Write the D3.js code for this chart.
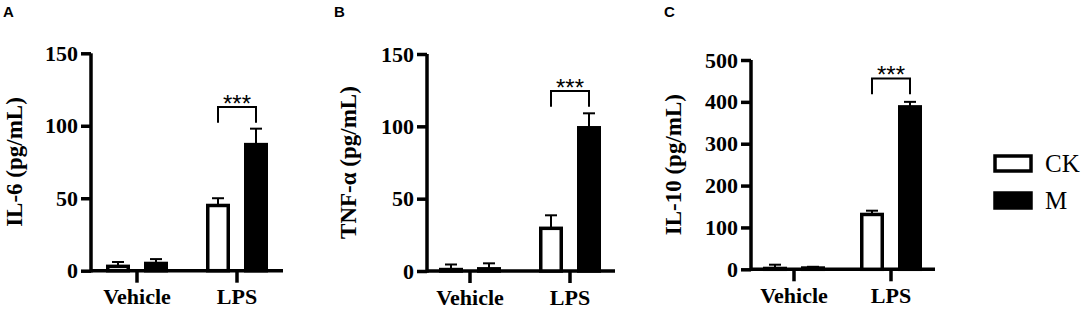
<!DOCTYPE html>
<html>
<head>
<meta charset="utf-8">
<script src="https://cdn.jsdelivr.net/npm/d3@7"></script>
<style>
  body { margin: 0; background: #fff; }
  svg { display: block; }
</style>
</head>
<body>
<div id="chart"></div>
<script>
// ---- data ----
const groups = ["Vehicle", "LPS"];
const series = ["CK", "M"];
const panelLetters = ["A", "B", "C"];
const yTitles = ["IL-6 (pg/mL)", "TNF-α (pg/mL)", "IL-10 (pg/mL)"];

const il6Ticks = [0, 50, 100, 150];
const il6CK = [3, 45];
const il6M = [5, 87];
const il6CKErr = [3, 5];
const il6MErr = [3, 11];
const il6Sig = [102, 113]; // bracket leg bottom, bracket top

const tnfTicks = [0, 50, 100, 150];
const tnfCK = [1, 29.5];
const tnfM = [1.5, 99];
const tnfCKErr = [3.5, 9];
const tnfMErr = [3.8, 10];
const tnfSig = [113.5, 124.5];

const il10Ticks = [0, 100, 200, 300, 400, 500];
const il10CK = [2, 131];
const il10M = [3, 388];
const il10CKErr = [9, 9];
const il10MErr = [3, 12];
const il10Sig = [418, 456];

const sigLabel = "***";

// ---- layout ----
const W = 1084, H = 310;
const svg = d3.select("#chart").append("svg").attr("width", W).attr("height", H);

const panels = [
  { ck: il6CK, m: il6M, ckErr: il6CKErr, mErr: il6MErr, ticks: il6Ticks, sig: il6Sig,
    axisX: 91, axisEnd: 283, y0: 270.7, y1: 53.3, letterX: 3, titleX: 14, cat0: 87, cat1: 287 },
  { ck: tnfCK, m: tnfM, ckErr: tnfCKErr, mErr: tnfMErr, ticks: tnfTicks, sig: tnfSig,
    axisX: 427, axisEnd: 615, y0: 271, y1: 54, letterX: 334, titleX: 348, cat0: 420, cat1: 620 },
  { ck: il10CK, m: il10M, ckErr: il10CKErr, mErr: il10MErr, ticks: il10Ticks, sig: il10Sig,
    axisX: 751, axisEnd: 935, y0: 269.3, y1: 60, letterX: 664, titleX: 673, cat0: 745.5, cat1: 939.5 }
];

const serif = "'Liberation Serif', 'Times New Roman', serif";
const sans = "'Liberation Sans', Arial, sans-serif";
const stroke = 3.5;
const barW = 24;

panels.forEach((p, i) => {
  const g = svg.append("g");
  const yMax = d3.max(p.ticks);
  const y = d3.scaleLinear().domain([0, yMax]).range([p.y0, p.y1]);
  const x = d3.scaleBand().domain(groups).range([p.cat0, p.cat1]);
  const xs = d3.scalePoint().domain(series).range([-19, 19]);
  const cx = c => x(c) + x.bandwidth() / 2;

  // panel letter
  g.append("text").attr("x", p.letterX).attr("y", 17)
    .attr("font-family", sans).attr("font-weight", "bold").attr("font-size", 15)
    .text(panelLetters[i]);

  // y axis
  const yAxis = g.append("g").attr("transform", `translate(${p.axisX},0)`)
    .call(d3.axisLeft(y).tickValues(p.ticks).tickSize(10).tickPadding(3).tickFormat(d3.format("d")));
  yAxis.select(".domain").attr("d", `M0,${p.y0 + stroke / 2}V${p.y1}`).attr("stroke-width", stroke);
  yAxis.selectAll(".tick line").attr("stroke-width", stroke);
  yAxis.selectAll(".tick text").attr("font-family", serif).attr("font-weight", "bold")
    .attr("font-size", 22).attr("fill", "#000");

  // x axis
  const xAxis = g.append("g").attr("transform", `translate(0,${p.y0})`)
    .call(d3.axisBottom(x).tickSize(12).tickPadding(6));
  xAxis.select(".domain").attr("d", `M${p.axisX},0H${p.axisEnd}`).attr("stroke-width", stroke);
  xAxis.selectAll(".tick line").attr("stroke-width", stroke);
  xAxis.selectAll(".tick text").attr("font-family", serif).attr("font-weight", "bold")
    .attr("font-size", 22).attr("fill", "#000");

  // y title
  g.append("text")
    .attr("transform", `translate(${p.titleX},${(p.y0 + p.y1) / 2}) rotate(-90)`)
    .attr("text-anchor", "middle").attr("dy", "0.35em")
    .attr("font-family", serif).attr("font-weight", "bold").attr("font-size", 23)
    .text(yTitles[i]);

  // bars
  const rows = [];
  groups.forEach((grp, gi) => {
    rows.push({ grp, s: "CK", v: p.ck[gi], e: p.ckErr[gi] });
    rows.push({ grp, s: "M", v: p.m[gi], e: p.mErr[gi] });
  });

  // error bars (behind bars)
  const eb = g.append("g").attr("stroke", "#000").attr("stroke-width", 2);
  rows.forEach(r => {
    const bx = cx(r.grp) + xs(r.s);
    eb.append("line").attr("x1", bx).attr("x2", bx).attr("y1", y(r.v)).attr("y2", y(r.v + r.e));
    eb.append("line").attr("x1", bx - 6).attr("x2", bx + 6).attr("y1", y(r.v + r.e)).attr("y2", y(r.v + r.e));
  });

  g.append("g").selectAll("rect").data(rows).join("rect")
    .attr("x", r => cx(r.grp) + xs(r.s) - (barW - stroke) / 2)
    .attr("width", barW - stroke)
    .attr("y", r => y(r.v))
    .attr("height", r => y(0) - y(r.v))
    .attr("fill", r => r.s === "CK" ? "#fff" : "#000")
    .attr("stroke", "#000").attr("stroke-width", stroke);

  // significance bracket on LPS
  const bl = cx("LPS") + xs("CK"), br = cx("LPS") + xs("M");
  g.append("path")
    .attr("d", `M${bl},${y(p.sig[0])}V${y(p.sig[1])}H${br}V${y(p.sig[0])}`)
    .attr("fill", "none").attr("stroke", "#000").attr("stroke-width", 2);
  g.append("text").attr("x", (bl + br) / 2).attr("y", y(p.sig[1]) + 5)
    .attr("text-anchor", "middle").attr("font-family", sans).attr("font-size", 24)
    .text(sigLabel);
});

// legend
const leg = svg.append("g").attr("transform", "translate(995,156)");
series.forEach((s, i) => {
  leg.append("rect").attr("x", 0).attr("y", i * 37).attr("width", 36).attr("height", 15)
    .attr("fill", s === "CK" ? "#fff" : "#000").attr("stroke", "#000").attr("stroke-width", stroke);
  leg.append("text").attr("x", 50).attr("y", i * 37 + 16)
    .attr("font-family", serif).attr("font-size", 25).text(s);
});
</script>
</body>
</html>
